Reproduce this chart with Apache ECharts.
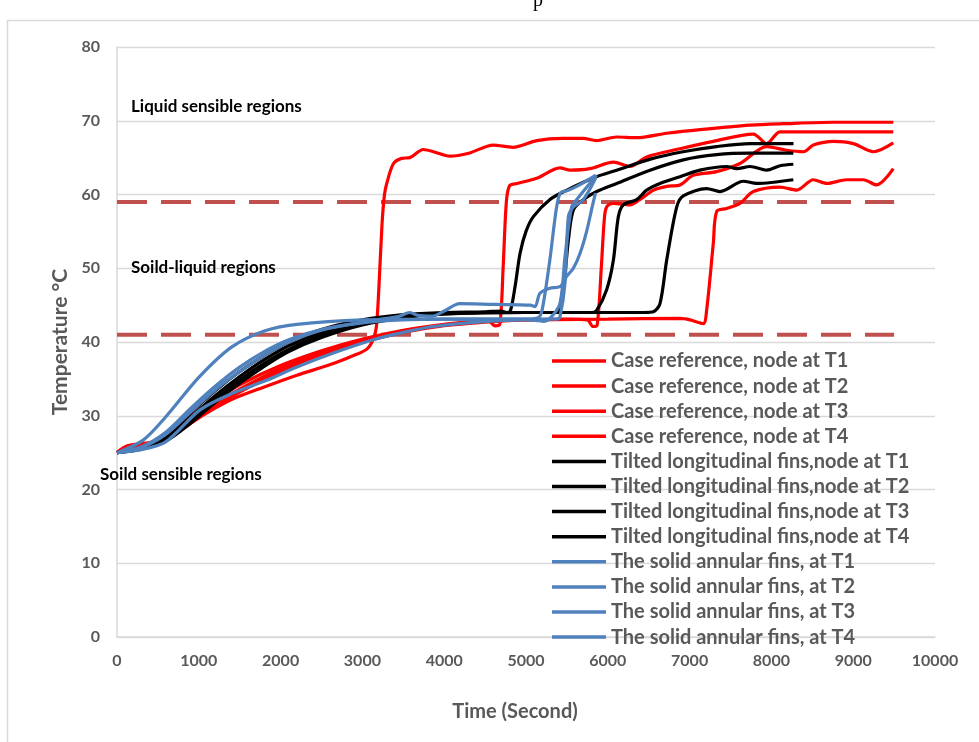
<!DOCTYPE html>
<html>
<head>
<meta charset="utf-8">
<script src="https://cdn.jsdelivr.net/npm/echarts@6/dist/echarts.min.js"></script>
<style>
html,body{margin:0;padding:0;background:#fff;}
#chart{width:979px;height:742px;}
</style>
</head>
<body>
<div id="chart"></div>
<script>
// ---- legend names ----
const seriesNames = [
  "Case reference, node at T1","Case reference, node at T2","Case reference, node at T3","Case reference, node at T4",
  "Tilted longitudinal fins,node at T1","Tilted longitudinal fins,node at T2","Tilted longitudinal fins,node at T3","Tilted longitudinal fins,node at T4",
  "The solid annular fins, at T1","The solid annular fins, at T2","The solid annular fins, at T3","The solid annular fins, at T4"
];
// ---- region boundaries (°C) ----
const liquidusLine = [[0,59],[9500,59]];
const solidusLine = [[0,41],[9500,41]];
const regionLabels = ["Liquid sensible regions","Soild-liquid regions","Soild sensible regions"];

// ---- Case reference (time s, temperature °C) ----
const caseT1 = [[0,25],[120,25.9],[300,26.2],[500,26.6],[800,28.3],[1100,30.4],[1400,32.2],[1800,33.9],[2200,35.5],[2600,36.9],[2900,38.2],[3050,39.0],[3130,40.3],[3170,42],[3200,47],[3240,56],[3270,60],[3300,61.6],[3380,64.2],[3480,64.9],[3580,65.0],[3745,66.1],[3870,65.8],[4070,65.2],[4300,65.6],[4600,66.7],[4840,66.4],[5130,67.3],[5450,67.6],[5700,67.6],[5860,67.3],[6110,67.8],[6350,67.7],[6720,68.3],[7130,68.8],[7740,69.4],[8150,69.6],[8760,69.8],[9490,69.8]];
const caseT2 = [[0,25],[120,25.8],[300,26.0],[500,26.7],[800,29.0],[1100,31.6],[1500,34.2],[2000,36.8],[2500,38.8],[3000,40.4],[3500,41.6],[4000,42.4],[4400,42.8],[4550,42.8],[4620,42.2],[4680,42.4],[4720,50],[4760,59],[4800,61.2],[4890,61.5],[5130,62.2],[5415,63.6],[5540,63.3],[5780,63.5],[6070,64.4],[6270,63.8],[6475,65.1],[6883,66.2],[7290,67.2],[7779,68.2],[7942,66.9],[8105,68.5],[8500,68.5],[9490,68.5]];
const caseT3 = [[0,25],[120,25.7],[300,25.9],[500,26.4],[800,28.6],[1100,31.0],[1500,33.6],[2000,36.4],[2500,38.6],[3000,40.2],[3500,41.5],[4000,42.3],[4500,42.8],[5000,43.0],[5500,43.1],[5750,43.0],[5820,42.1],[5870,42.3],[5920,50],[5960,57],[5990,58.4],[6070,58.8],[6270,58.6],[6390,59.3],[6560,60.6],[6720,61.1],[6883,61.3],[7045,62.6],[7330,63.1],[7616,64.2],[7942,66.5],[8187,66.0],[8391,65.8],[8513,66.7],[8757,67.2],[9002,66.9],[9246,65.8],[9490,67.0]];
const caseT4 = [[0,25],[120,25.8],[300,26.1],[500,26.5],[800,28.2],[1100,30.6],[1500,33.2],[2000,36.0],[2500,38.3],[3000,40.0],[3500,41.3],[4000,42.2],[4500,42.7],[5000,43.0],[6000,43.1],[6883,43.2],[7005,43.0],[7167,42.5],[7208,44.3],[7290,53.4],[7331,57.7],[7453,58.1],[7616,58.8],[7779,60.4],[8105,61.0],[8309,60.6],[8513,62.0],[8676,61.5],[8920,62.0],[9124,62.0],[9287,61.3],[9490,63.5]];

// ---- Tilted longitudinal fins ----
const tiltT1 = [[0,25],[300,25.7],[600,27.4],[900,30.4],[1200,33.4],[1500,36.0],[1800,38.2],[2100,40.0],[2500,41.7],[3000,43.0],[3500,43.7],[4000,44.0],[4500,44.1],[4700,44.2],[4760,44.0],[4804,44.1],[4866,47.5],[4927,52.0],[5000,55.0],[5090,57.0],[5290,59.3],[5500,60.6],[5860,62.4],[6110,63.3],[6520,64.8],[6920,65.8],[7330,66.5],[7740,66.9],[8270,66.9]];
const tiltT2 = [[0,25],[300,25.6],[600,27.0],[900,29.8],[1200,32.7],[1500,35.3],[1800,37.6],[2100,39.5],[2500,41.3],[3000,42.8],[3500,43.6],[4000,43.9],[5000,44.0],[5380,44.0],[5415,44.8],[5477,49.3],[5518,53.8],[5579,57.9],[5700,59.3],[5864,60.4],[6109,61.5],[6516,63.3],[6923,64.7],[7331,65.4],[7739,65.6],[8268,65.6]];
const tiltT3 = [[0,25],[300,25.5],[600,26.8],[900,29.4],[1200,32.2],[1500,34.8],[1800,37.1],[2100,39.0],[2500,40.9],[3000,42.5],[3500,43.4],[4000,43.8],[5000,44.0],[5800,44.0],[5864,44.3],[5986,47.1],[6068,51.1],[6129,57.0],[6190,58.6],[6353,59.3],[6475,60.6],[6638,61.5],[6883,62.4],[7127,63.3],[7453,63.8],[7575,63.5],[7739,63.8],[7942,63.3],[8105,63.9],[8268,64.1]];
const tiltT4 = [[0,25],[300,25.5],[600,26.6],[900,29.0],[1200,31.8],[1500,34.4],[1800,36.7],[2100,38.7],[2500,40.6],[3000,42.3],[3500,43.3],[4000,43.8],[5000,44.0],[6450,44.0],[6557,44.1],[6638,45.2],[6720,51.1],[6842,58.3],[6923,59.8],[7208,60.8],[7372,60.4],[7657,61.8],[7820,61.5],[8268,62.0]];

// ---- Solid annular fins ----
const annT1 = [[0,25],[320,26.7],[600,29.9],[1000,35.2],[1400,39.3],[1800,41.5],[2200,42.4],[3000,43.0],[4000,43.1],[5000,43.1],[5150,43.3],[5200,44.5],[5290,51.0],[5370,58.0],[5420,60.2],[5500,60.5],[5620,61.1],[5850,62.6]];
const annT2 = [[0,25],[300,25.8],[600,27.8],[900,31.0],[1200,34.0],[1500,36.6],[1800,38.7],[2100,40.3],[2500,41.7],[3000,42.6],[3500,43.0],[4000,43.1],[5000,43.1],[5380,43.1],[5415,43.4],[5477,48.0],[5518,57.0],[5579,58.3],[5701,59.3],[5850,62.2]];
const annT3 = [[0,25],[300,25.7],[600,27.5],[900,30.5],[1200,33.5],[1500,36.0],[1800,38.2],[2100,40.0],[2500,41.6],[3000,42.7],[3300,43.2],[3450,43.5],[3580,44.0],[3680,43.6],[3850,43.5],[4000,44.2],[4190,45.2],[4600,45.1],[5050,45.0],[5110,44.8],[5170,46.6],[5290,47.3],[5415,47.5],[5497,48.9],[5579,50.0],[5660,52.0],[5741,55.0],[5823,59.0],[5850,60.2]];
const annT4 = [[0,25],[300,25.4],[600,26.5],[1015,30.8],[1400,33.0],[1830,34.8],[2200,36.6],[2645,38.5],[3134,40.3],[3500,41.3],[3867,42.1],[4400,42.7],[5000,43.0],[5150,42.9],[5212,42.8],[5293,43.2],[5415,45.2],[5477,51.6],[5558,58.3],[5619,59.3],[5864,62.6]];

const seriesData = [caseT1,caseT2,caseT3,caseT4,tiltT1,tiltT2,tiltT3,tiltT4,annT1,annT2,annT3,annT4];
const seriesColors = ['#FF0000','#FF0000','#FF0000','#FF0000','#000000','#000000','#000000','#000000','#4F81BD','#4F81BD','#4F81BD','#4F81BD'];

const FONT = 'Lato';
const chart = echarts.init(document.getElementById('chart'), null, {renderer:'canvas'});

const series = [];
[liquidusLine, solidusLine].forEach(d => {
  series.push({
    type:'line', data:d, showSymbol:false, silent:true, z:1,
    lineStyle:{color:'#C0504D', width:4, type:[30,14]}
  });
});
seriesData.forEach((d,i) => {
  series.push({
    name: seriesNames[i], type:'line', data:d, showSymbol:false,
    smooth:0.3, z:3,
    lineStyle:{color:seriesColors[i], width:3.2},
    itemStyle:{color:seriesColors[i]}
  });
});

chart.setOption({
  animation:false,
  backgroundColor:'#fff',
  grid:{left:117, right:44, top:47, bottom:105},
  xAxis:{
    type:'value', min:0, max:10000, interval:1000,
    name:'Time (Second)', nameLocation:'middle', nameGap:65,
    nameTextStyle:{fontFamily:FONT, fontWeight:'bold', fontSize:20, color:'#595959', padding:[0,22,0,0]},
    axisLine:{show:true, lineStyle:{color:'#D9D9D9', width:1.5}},
    axisTick:{show:false},
    axisLabel:{fontFamily:FONT, fontWeight:'bold', fontSize:16, color:'#595959', margin:16, formatter: v => String(v)},
    splitLine:{show:false}
  },
  yAxis:{
    type:'value', min:0, max:80, interval:10,
    name:'Temperature °C', nameLocation:'middle', nameGap:46,
    nameTextStyle:{fontFamily:FONT, fontWeight:'bold', fontSize:21, color:'#595959'},
    axisLine:{show:true, lineStyle:{color:'#D9D9D9', width:1.5}},
    axisTick:{show:false},
    axisLabel:{fontFamily:FONT, fontWeight:'bold', fontSize:16, color:'#595959', margin:17},
    splitLine:{show:true, lineStyle:{color:'#D9D9D9', width:1.3}}
  },
  legend:{
    data: seriesNames,
    orient:'vertical', left:552, top:351, padding:0,
    itemWidth:54, itemHeight:3.5, itemGap:5.1, icon:'rect',
    textStyle:{fontFamily:FONT, fontWeight:'bold', fontSize:20, color:'#595959', lineHeight:20}
  },
  graphic:[
    {type:'rect', shape:{x:7.5, y:20.5, width:1200, height:1000}, style:{fill:null, stroke:'#D9D9D9', lineWidth:1.5}, silent:true, z:-1},
    {type:'text', left:533, top:-9, style:{text:'p', font:'20px "Liberation Serif"', fill:'#000'}},
    {type:'text', left:131, top:98, z:10, style:{text:regionLabels[0], font:'bold 17px Lato', fill:'#000'}},
    {type:'text', left:131, top:259, z:10, style:{text:regionLabels[1], font:'bold 17px Lato', fill:'#000'}},
    {type:'text', left:100, top:466, z:10, style:{text:regionLabels[2], font:'bold 17px Lato', fill:'#000'}}
  ],
  series: series
});
</script>
</body>
</html>
